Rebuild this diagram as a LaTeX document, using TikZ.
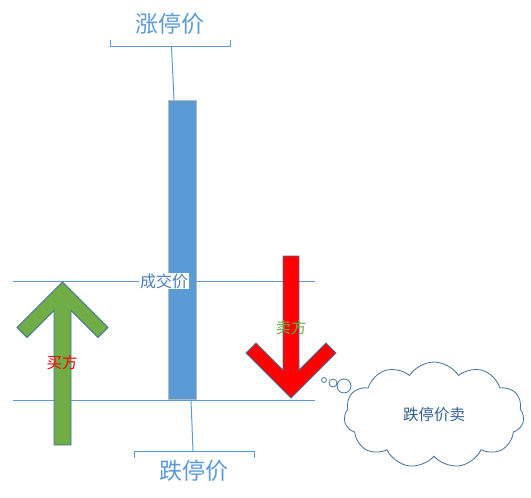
\documentclass[tikz,border=0pt]{standalone}
\usepackage{fontspec}
\setmainfont{Noto Sans CJK SC}
\usetikzlibrary{shapes.symbols}
\definecolor{lblue}{HTML}{5B9BD5}
\definecolor{dblue}{HTML}{41719C}
\definecolor{tblue}{HTML}{4A7EBB}
\definecolor{cblue}{HTML}{2F5F8F}
\definecolor{agreen}{HTML}{70AD47}
\tikzset{
  guide/.style={draw=lblue, line width=1pt},
  bigtxt/.style={text=lblue, font=\fontsize{23}{23}\selectfont, inner sep=0pt},
  smtxt/.style={font=\fontsize{15.5}{15.5}\selectfont, inner sep=0pt},
  arrowshape/.style={draw=dblue, line width=0.8pt, line join=miter},
  bubble/.style={circle, draw=dblue, line width=0.8pt, fill=white, inner sep=0pt}
}
\begin{document}
\begin{tikzpicture}[x=1pt,y=-1pt]
\useasboundingbox (0,0) rectangle (531,498);
% horizontal guide lines
\coordinate (h1a) at (13,281);
\coordinate (h1b) at (315,281);
\coordinate (h2a) at (13,400);
\coordinate (h2b) at (315,400);
% bar
\node[draw=gray!55, fill=lblue, line width=0.8pt, minimum width=28pt, minimum height=299pt, inner sep=0pt, anchor=north west] (bar) at (168,100) {};
\draw[guide] (h1a) -- (h1b);
\draw[guide] (h2a) -- (h2b);
% top bracket
\coordinate (tbl) at (110,40);
\coordinate (tblb) at (110,46);
\coordinate (tbrb) at (230,46);
\coordinate (tbr) at (230,40);
\coordinate (tbm) at (171.5,46);
\coordinate (bartop) at (174,100);
\draw[guide] (tbl) -- (tblb) -- (tbrb) -- (tbr);
\draw[guide] (tbm) -- (bartop);
\node[bigtxt] (top) at (170,24) {涨停价};
% bottom bracket
\coordinate (bbl) at (134,458);
\coordinate (bblb) at (134,451);
\coordinate (bbrb) at (254,451);
\coordinate (bbr) at (254,458);
\coordinate (bbm) at (193,451);
\coordinate (barbot) at (191,400);
\draw[guide] (bbl) -- (bblb) -- (bbrb) -- (bbr);
\draw[guide] (barbot) -- (bbm);
\node[bigtxt] (bot) at (194,471) {跌停价};
% deal price label
\node[fill=white, text=tblue, font=\fontsize{16}{16}\selectfont, inner sep=1pt] (deal) at (164,281) {成交价};
% green up arrow
\draw[arrowshape, fill=agreen] (62.5,282) -- (108,327.5) -- (98,337.5) -- (71,310.5) -- (71,445) -- (54,445) -- (54,310.5) -- (27,337.5) -- (17,327.5) -- cycle;
\node[smtxt, text=red] (buy) at (62,363) {买方};
% red down arrow
\draw[arrowshape, fill=red] (291,398) -- (246,353) -- (256,343) -- (283,370) -- (283,256) -- (299,256) -- (299,370) -- (326,343) -- (336,353) -- cycle;
\node[smtxt, text=agreen] (sell) at (291,328) {卖方};
% thought bubbles
\node[bubble, minimum size=5pt] (b1) at (324,380) {};
\node[bubble, minimum size=8pt] (b2) at (333,383) {};
\node[bubble, minimum size=14pt] (b3) at (344,386) {};
% cloud
\node[cloud, cloud puffs=11, cloud puff arc=115, aspect=1.7, draw=dblue, line width=0.8pt, fill=white, minimum width=180pt, minimum height=106pt, inner sep=0pt, text=cblue, font=\fontsize{15.5}{15.5}\selectfont] (cloud) at (434,415) {跌停价卖};
\end{tikzpicture}
\end{document}
